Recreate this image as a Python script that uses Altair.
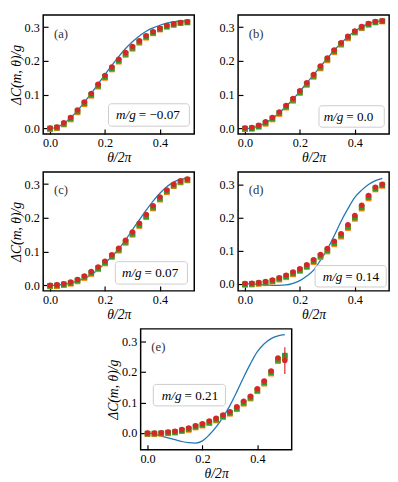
import altair as alt
import pandas as pd

theta = [0.0, 0.025, 0.05, 0.075, 0.1, 0.125, 0.15, 0.175, 0.2, 0.225, 0.25,
         0.275, 0.3, 0.325, 0.35, 0.375, 0.4, 0.425, 0.45, 0.475, 0.5]

# (a) m/g = -0.07
a_theory = [0.0, 0.004, 0.015, 0.032, 0.053, 0.078, 0.104, 0.132, 0.160, 0.187, 0.213,
            0.237, 0.257, 0.274, 0.288, 0.298, 0.306, 0.312, 0.316, 0.318, 0.319]
a_red = [0.002, 0.005, 0.017, 0.033, 0.055, 0.079, 0.104, 0.131, 0.157, 0.182, 0.205,
         0.225, 0.243, 0.260, 0.275, 0.287, 0.297, 0.305, 0.310, 0.314, 0.316]
a_green = [0.000, 0.003, 0.014, 0.030, 0.051, 0.075, 0.100, 0.127, 0.153, 0.178, 0.201,
           0.221, 0.239, 0.257, 0.272, 0.284, 0.295, 0.303, 0.308, 0.313, 0.315]
a_orange = [-0.002, 0.001, 0.012, 0.027, 0.048, 0.072, 0.097, 0.124, 0.150, 0.175, 0.198,
            0.218, 0.236, 0.254, 0.269, 0.282, 0.293, 0.301, 0.307, 0.312, 0.314]

# (b) m/g = 0.0
b_theory = [0.0, 0.002, 0.008, 0.017, 0.030, 0.047, 0.066, 0.087, 0.110, 0.135, 0.159,
            0.184, 0.208, 0.232, 0.253, 0.272, 0.288, 0.301, 0.311, 0.316, 0.318]
b_red = [0.002, 0.003, 0.010, 0.020, 0.033, 0.049, 0.068, 0.089, 0.112, 0.136, 0.160,
         0.185, 0.209, 0.233, 0.254, 0.273, 0.289, 0.302, 0.311, 0.317, 0.319]
b_green = [0.000, 0.001, 0.007, 0.017, 0.030, 0.046, 0.065, 0.085, 0.108, 0.132, 0.156,
           0.181, 0.205, 0.229, 0.251, 0.270, 0.286, 0.299, 0.309, 0.315, 0.318]
b_orange = [-0.002, -0.001, 0.005, 0.014, 0.027, 0.043, 0.062, 0.082, 0.105, 0.129, 0.153,
            0.178, 0.202, 0.226, 0.248, 0.267, 0.284, 0.297, 0.307, 0.314, 0.317]

# (c) m/g = 0.07
c_theory = [0.0, 0.001, 0.003, 0.007, 0.013, 0.021, 0.032, 0.047, 0.066, 0.086, 0.108,
            0.135, 0.165, 0.194, 0.223, 0.250, 0.273, 0.292, 0.306, 0.314, 0.318]
c_red = [0.001, 0.002, 0.005, 0.010, 0.018, 0.028, 0.041, 0.055, 0.072, 0.091, 0.110,
         0.134, 0.158, 0.184, 0.210, 0.236, 0.262, 0.283, 0.300, 0.310, 0.315]
c_green = [-0.001, 0.000, 0.003, 0.007, 0.015, 0.025, 0.037, 0.051, 0.068, 0.087, 0.106,
           0.129, 0.153, 0.179, 0.205, 0.231, 0.257, 0.279, 0.296, 0.307, 0.313]
c_orange = [-0.003, -0.002, 0.001, 0.005, 0.012, 0.022, 0.034, 0.048, 0.065, 0.084, 0.103,
            0.126, 0.150, 0.176, 0.202, 0.228, 0.254, 0.276, 0.294, 0.305, 0.311]

# (d) m/g = 0.14
d_theory = [0.0, 0.0, -0.001, -0.003, -0.004, -0.004, -0.003, 0.002, 0.010, 0.024, 0.042,
            0.072, 0.105, 0.146, 0.190, 0.228, 0.262, 0.284, 0.301, 0.313, 0.320]
d_red = [0.001, 0.002, 0.004, 0.007, 0.012, 0.019, 0.026, 0.036, 0.046, 0.058, 0.073,
         0.089, 0.107, 0.129, 0.152, 0.179, 0.207, 0.238, 0.268, 0.293, 0.302]
d_green = [-0.001, 0.000, 0.002, 0.004, 0.009, 0.016, 0.023, 0.032, 0.042, 0.054, 0.069,
           0.085, 0.102, 0.124, 0.147, 0.173, 0.201, 0.232, 0.263, 0.289, 0.299]
d_orange = [-0.003, -0.002, 0.000, 0.002, 0.007, 0.013, 0.020, 0.029, 0.039, 0.051, 0.066,
            0.081, 0.098, 0.120, 0.143, 0.169, 0.197, 0.228, 0.259, 0.286, 0.297]

# (e) m/g = 0.21
e_theory = [0.0, -0.004, -0.010, -0.016, -0.022, -0.028, -0.032, -0.033, -0.026, -0.006, 0.020,
            0.052, 0.090, 0.135, 0.183, 0.228, 0.267, 0.293, 0.310, 0.319, 0.323]
e_red = [0.000, 0.000, 0.001, 0.003, 0.006, 0.011, 0.016, 0.024, 0.030, 0.039, 0.048,
         0.059, 0.070, 0.086, 0.104, 0.121, 0.145, 0.171, 0.204, 0.246, 0.238]
e_green = [-0.002, -0.002, -0.001, 0.001, 0.003, 0.008, 0.013, 0.021, 0.027, 0.035, 0.044,
           0.055, 0.066, 0.081, 0.099, 0.116, 0.140, 0.166, 0.199, 0.240, 0.254]
e_orange = [-0.004, -0.004, -0.003, -0.001, 0.001, 0.006, 0.010, 0.018, 0.024, 0.032, 0.041,
            0.052, 0.063, 0.078, 0.096, 0.113, 0.137, 0.162, 0.195, 0.236, 0.249]
e_red_err = [0.0, 0.0, 0.0, 0.0, 0.0, 0.0, 0.0, 0.0, 0.0, 0.0, 0.0,
             0.0, 0.0, 0.0, 0.0, 0.0, 0.001, 0.002, 0.003, 0.004, 0.044]
e_green_err = [0.0, 0.0, 0.0, 0.0, 0.0, 0.0, 0.0, 0.0, 0.0, 0.0, 0.0,
               0.0, 0.0, 0.0, 0.0, 0.0, 0.001, 0.001, 0.002, 0.003, 0.010]

x_ticks = [0.0, 0.2, 0.4]
y_ticks = [0.0, 0.1, 0.2, 0.3]

FONT = "Liberation Serif, DejaVu Serif, serif"
W, H = 155, 122
XDOM = [-0.025, 0.525]
YTITLE = "ΔC(m, θ)/g"


def panel(letter, mval, theory, red, green, orange, ydom, ytitle, box, split,
          h=H, red_err=None, green_err=None):
    df = pd.DataFrame({"t": theta, "th": theory, "r": red, "g": green, "o": orange})
    xs = alt.Scale(domain=XDOM, nice=False, zero=False)
    ys = alt.Scale(domain=ydom, nice=False, zero=False)
    xaxis = alt.Axis(orient="bottom", title="θ/2π", values=x_ticks, format=".1f",
                     ticks=False, domain=False, grid=False, labelPadding=3, titlePadding=2)
    if ytitle:
        yaxis = alt.Axis(orient="left", title=ytitle, values=y_ticks, format=".1f",
                         ticks=False, domain=False, grid=False, labelPadding=4,
                         titlePadding=1)
    else:
        yaxis = alt.Axis(orient="left", title=None, values=y_ticks, format=".1f",
                         ticks=False, domain=False, grid=False, labelPadding=4)
    tick_x = alt.Axis(orient="top", offset=-h, values=x_ticks, labels=False, ticks=True,
                      tickSize=5, tickWidth=1.2, tickColor="black", domain=False,
                      grid=False, title=None, minExtent=0, maxExtent=0)
    tick_y = alt.Axis(orient="right", offset=-W, values=y_ticks, labels=False, ticks=True,
                      tickSize=5, tickWidth=1.2, tickColor="black", domain=False,
                      grid=False, title=None, minExtent=0, maxExtent=0)

    if red_err is not None:
        df["rlo"] = [v - e for v, e in zip(red, red_err)]
        df["rhi"] = [v + e for v, e in zip(red, red_err)]
        df["glo"] = [v - e for v, e in zip(green, green_err)]
        df["ghi"] = [v + e for v, e in zip(green, green_err)]
    base = alt.Chart(df)

    line = base.mark_line(color="#1f77b4", strokeWidth=1.3, interpolate="monotone").encode(
        x=alt.X("t:Q", scale=xs, axis=xaxis),
        y=alt.Y("th:Q", scale=ys, axis=yaxis),
    )
    layers = [line]
    o_l = base.mark_square(color="#ff7f0e", size=34, opacity=1).encode(
        x=alt.X("t:Q", scale=xs, axis=tick_x),
        y=alt.Y("o:Q", scale=ys, axis=tick_y),
    )
    layers.append(o_l)
    if red_err is not None:
        layers.append(base.mark_rule(color="#2ca02c", strokeWidth=1.2).encode(
            x=alt.X("t:Q", axis=None), y=alt.Y("glo:Q", axis=None), y2="ghi:Q"))
    g_l = base.mark_square(color="#2ca02c", size=34, opacity=1).encode(
        x=alt.X("t:Q", axis=None), y=alt.Y("g:Q", axis=None))
    layers.append(g_l)
    if red_err is not None:
        layers.append(base.mark_rule(color="#d62728", strokeWidth=1.2).encode(
            x=alt.X("t:Q", axis=None), y=alt.Y("rlo:Q", axis=None), y2="rhi:Q"))
    r_l = base.mark_circle(color="#d62728", size=32, opacity=1).encode(
        x=alt.X("t:Q", axis=None), y=alt.Y("r:Q", axis=None))
    layers.append(r_l)

    one = pd.DataFrame({"s": [letter]})
    lab = alt.Chart(one).mark_text(align="left", baseline="middle", font=FONT,
                                   fontSize=13, color="#333333").encode(
        x=alt.value(11), y=alt.value(19), text="s:N")
    x1, x2, y1, y2 = box
    rect = alt.Chart(one).mark_rect(fill="white", fillOpacity=0.85, stroke="#cccccc",
                                    strokeWidth=1, cornerRadius=3).encode(
        x=alt.value(x1), x2=alt.value(x2), y=alt.value(y1), y2=alt.value(y2))
    ym = (y1 + y2) / 2 + 0.5
    t1 = alt.Chart(pd.DataFrame({"s": ["m/g"]})).mark_text(
        align="right", baseline="middle", font=FONT, fontSize=13.5, fontStyle="italic",
        color="black").encode(x=alt.value(split - 1), y=alt.value(ym), text="s:N")
    t2 = alt.Chart(pd.DataFrame({"s": ["= " + mval]})).mark_text(
        align="left", baseline="middle", font=FONT, fontSize=13.5,
        color="black").encode(x=alt.value(split + 2), y=alt.value(ym), text="s:N")
    layers += [lab, rect, t1, t2]
    return alt.layer(*layers).properties(width=W, height=h)


pa = panel("(a)", "−0.07", a_theory, a_red, a_green, a_orange, [-0.016, 0.336], YTITLE,
           (67, 150, 91, 114), 96)
pb = panel("(b)", "0.0", b_theory, b_red, b_green, b_orange, [-0.016, 0.336], None,
           (83, 150, 93, 115), 109)
pc = panel("(c)", "0.07", c_theory, c_red, c_green, c_orange, [-0.016, 0.336], YTITLE,
           (74, 148, 92, 115), 102)
pd_ = panel("(d)", "0.14", d_theory, d_red, d_green, d_orange, [-0.021, 0.339], None,
            (79, 152, 96, 118), 108)
pe = panel("(e)", "0.21", e_theory, e_red, e_green, e_orange, [-0.055, 0.342], YTITLE,
           (13, 87, 57, 79), 43, h=124, red_err=e_red_err, green_err=e_green_err)

row1 = alt.hconcat(pa, pb, spacing=23)
row2 = alt.hconcat(pc, pd_, spacing=23)
chart = alt.vconcat(row1, row2, pe, spacing=5, center=True).configure(
    padding={"left": 0, "top": 0, "right": 0, "bottom": 0},
    font=FONT,
).configure_view(stroke="black", strokeWidth=1.5).configure_axis(
    labelFont=FONT, labelFontSize=12.5, labelColor="black",
    titleFont=FONT, titleFontSize=14, titleFontWeight="normal", titleFontStyle="italic",
    titleColor="black",
)

chart.save("out.html", embed_options={"renderer": "svg", "actions": False})
